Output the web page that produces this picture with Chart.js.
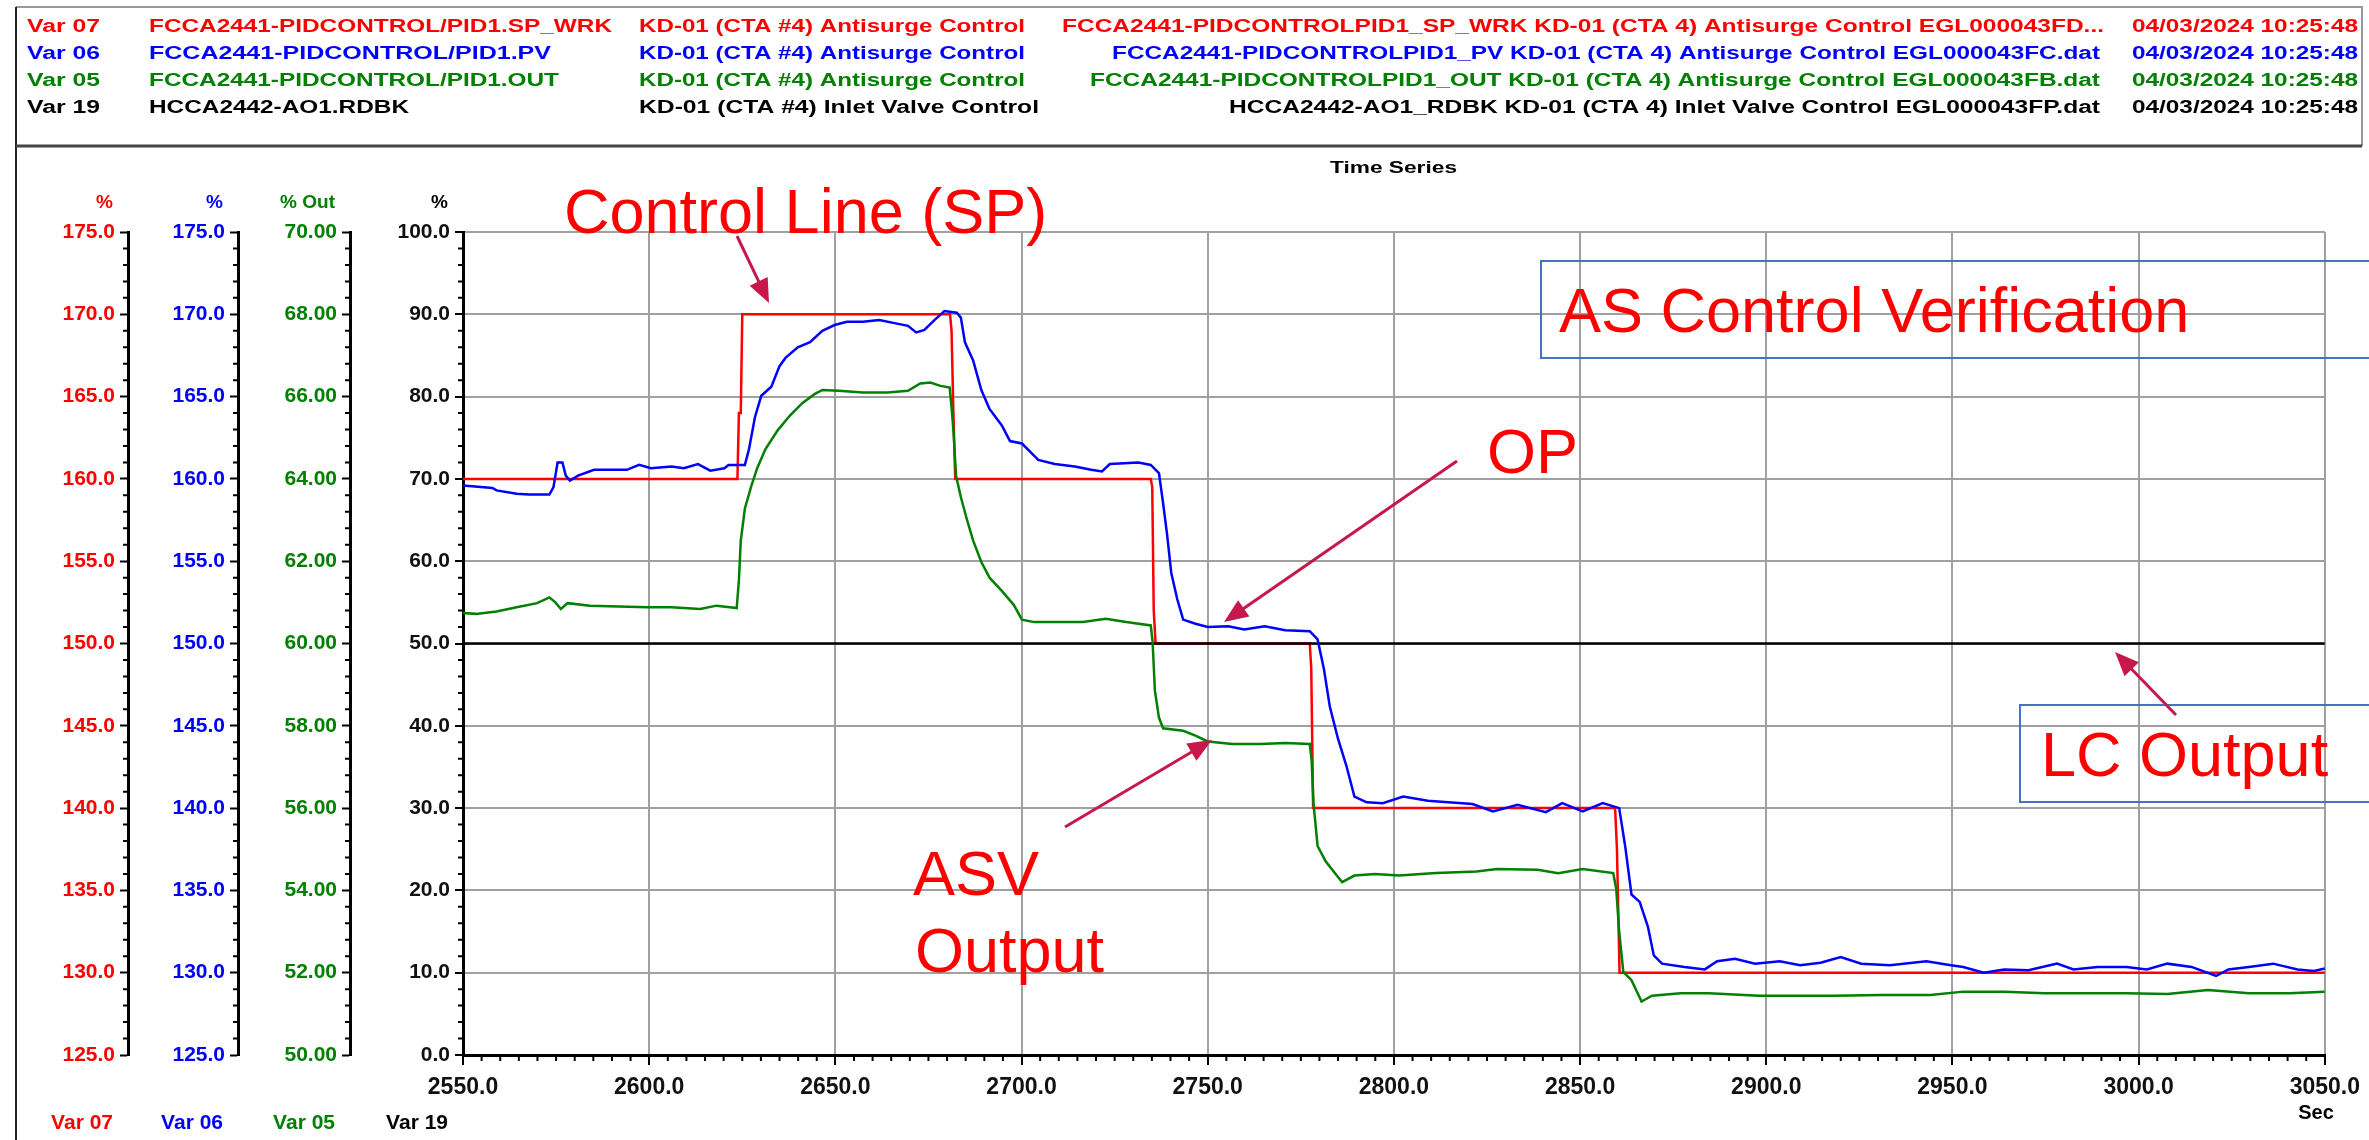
<!DOCTYPE html>
<html>
<head>
<meta charset="utf-8">
<title>KD-01 (CTA #4) Antisurge Control - Time Series</title>
<script src="https://cdn.jsdelivr.net/npm/chart.js@4.4.1/dist/chart.umd.min.js"></script>
<style>
  html, body { margin: 0; padding: 0; background: #fff; }
  canvas { display: block; }
</style>
</head>
<body>
<canvas id="trend" width="2369" height="1140"></canvas>
<script>
// ---- tick labels for every axis ----
let timeTicks = [2550, 2600, 2650, 2700, 2750, 2800, 2850, 2900, 2950, 3000, 3050];
let pctTicks  = [0, 10, 20, 30, 40, 50, 60, 70, 80, 90, 100];
let spTicks   = [125, 130, 135, 140, 145, 150, 155, 160, 165, 170, 175];
let pvTicks   = [125, 130, 135, 140, 145, 150, 155, 160, 165, 170, 175];
let outTicks  = [50, 52, 54, 56, 58, 60, 62, 64, 66, 68, 70];

// ---- Var 07  FCCA2441-PIDCONTROL/PID1.SP_WRK  (% , red axis) ----
let spTime  = [2550, 2623.7, 2624.1, 2624.6, 2625.0, 2680.8, 2681.2, 2681.7, 2682.2, 2734.7,
               2735.1, 2735.5, 2736.0, 2777.4, 2777.8, 2778.3, 2859.4, 2859.9, 2860.6, 3050];
let spValue = [160, 160, 164, 164, 170, 170, 169, 164, 160, 160,
               159.5, 152, 150, 150, 148.5, 140, 140, 137.5, 130, 130];

// ---- Var 06  FCCA2441-PIDCONTROL/PID1.PV  (% , blue axis) ----
let pvTime = [2550, 2552.4, 2557.9, 2559, 2564.4, 2567.7, 2573.2, 2574.3, 2575.4, 2576.7,
              2577.6, 2578.7, 2580.9, 2585.2, 2589.6, 2594, 2597.3, 2600.5, 2606, 2609.3,
              2613.1, 2616.4, 2620.2, 2621.3, 2625.7, 2626.8, 2628.4, 2630.1, 2632.8, 2635,
              2636.6, 2639.9, 2643.2, 2646.5, 2649.8, 2653.1, 2657.4, 2661.8, 2666.2, 2669.5,
              2671.7, 2673.9, 2676.6, 2679.3, 2682.6, 2683.7, 2684.8, 2687, 2689.2, 2691.4,
              2694.7, 2696.9, 2700.1, 2704.5, 2708.9, 2714.3, 2718.7, 2721.6, 2723.7, 2731.4,
              2734.7, 2736.9, 2738, 2739.1, 2740.2, 2741.8, 2743.4, 2746.7, 2750, 2755.5,
              2759.8, 2765.3, 2770.8, 2777.4, 2779.5, 2781.2, 2782.8, 2785, 2787.2, 2789.4,
              2792.7, 2797, 2802.5, 2809.1, 2814.6, 2821.1, 2826.6, 2833.2, 2840.8, 2845.2,
              2850.7, 2856.1, 2860.5, 2862.1, 2863.8, 2866, 2868.2, 2869.8, 2872, 2878,
              2883.5, 2886.8, 2891.6, 2897, 2903.6, 2909.1, 2914.6, 2920, 2925.5, 2933.2,
              2943, 2949.6, 2952.9, 2958.4, 2963.9, 2970.4, 2978.1, 2982.5, 2989, 2996.7,
              3002.2, 3007.7, 3014.2, 3020.8, 3024.1, 3029.6, 3036.1, 3042.7, 3047.1, 3050];
let pvValue = [159.6, 159.55, 159.45, 159.3, 159.1, 159.05, 159.05, 159.5, 161, 161,
               160.2, 159.9, 160.2, 160.55, 160.55, 160.55, 160.85, 160.65, 160.75, 160.65,
               160.9, 160.5, 160.65, 160.85, 160.85, 161.8, 163.75, 165.05, 165.6, 166.85,
               167.35, 168, 168.3, 169, 169.35, 169.55, 169.55, 169.65, 169.45, 169.3,
               168.9, 169.05, 169.65, 170.2, 170.1, 169.8, 168.3, 167.2, 165.4, 164.25,
               163.25, 162.3, 162.15, 161.15, 160.9, 160.75, 160.55, 160.45, 160.9, 161,
               160.85, 160.35, 158.55, 156.6, 154.3, 152.7, 151.45, 151.2, 151, 151.05,
               150.85, 151.05, 150.8, 150.75, 150.25, 148.45, 146.15, 144.2, 142.6, 140.7,
               140.35, 140.3, 140.7, 140.45, 140.35, 140.25, 139.8, 140.2, 139.75, 140.3,
               139.8, 140.3, 140, 137.7, 134.75, 134.3, 132.8, 131.05, 130.55, 130.35,
               130.2, 130.7, 130.85, 130.55, 130.7, 130.45, 130.6, 130.95, 130.55, 130.45,
               130.7, 130.45, 130.35, 130, 130.2, 130.15, 130.55, 130.2, 130.35, 130.35,
               130.2, 130.55, 130.35, 129.8, 130.2, 130.35, 130.55, 130.2, 130.1, 130.25];

// ---- Var 05  FCCA2441-PIDCONTROL/PID1.OUT  (% Out, green axis) ----
let outTime = [2550, 2553.5, 2559, 2564.4, 2569.9, 2573.2, 2574.8, 2576.3, 2578.1, 2584.1,
               2591.8, 2599.5, 2606, 2613.7, 2618.1, 2623.5, 2624.1, 2624.6, 2625.7, 2627.4,
               2629, 2631.2, 2634.5, 2637.8, 2641.1, 2644.4, 2646.5, 2650.9, 2657.4, 2664,
               2669.5, 2672.8, 2675.5, 2678.2, 2680.7, 2681.3, 2681.7, 2682.4, 2683.7, 2685.3,
               2687, 2689.2, 2691.4, 2694.7, 2697.9, 2700.1, 2703.4, 2710, 2716.5, 2722.6,
               2728.1, 2734.7, 2735.2, 2735.8, 2736.9, 2738, 2743.4, 2746.7, 2750, 2756.6,
               2764.2, 2770.8, 2777.4, 2777.9, 2778.4, 2779.5, 2781.7, 2786.1, 2789.4, 2794.9,
               2801.4, 2811.3, 2822.2, 2827.7, 2838.6, 2844.1, 2850.7, 2858.9, 2859.7, 2860.5,
               2861.6, 2863.8, 2866.5, 2869.3, 2877, 2884.6, 2898.1, 2917.9, 2931, 2944.1,
               2952.9, 2963.9, 2974.8, 2996.7, 3007.7, 3018.6, 3029.6, 3040.5, 3050];
let outValue = [60.74, 60.72, 60.78, 60.88, 60.98, 61.12, 61.0, 60.84, 60.98, 60.92,
                60.9, 60.88, 60.88, 60.84, 60.92, 60.86, 61.54, 62.5, 63.28, 63.82,
                64.26, 64.72, 65.18, 65.54, 65.84, 66.06, 66.16, 66.14, 66.1, 66.1,
                66.14, 66.32, 66.34, 66.26, 66.22, 65.64, 65.18, 64.08, 63.56, 63.02,
                62.5, 61.98, 61.6, 61.28, 60.94, 60.58, 60.52, 60.52, 60.52, 60.6,
                60.52, 60.44, 60.04, 58.86, 58.2, 57.94, 57.88, 57.76, 57.62, 57.56,
                57.56, 57.58, 57.56, 57.16, 56.12, 55.08, 54.7, 54.2, 54.36, 54.4,
                54.36, 54.42, 54.46, 54.52, 54.5, 54.42, 54.52, 54.42, 54.04, 53,
                52.02, 51.82, 51.3, 51.44, 51.5, 51.5, 51.44, 51.44, 51.46, 51.46,
                51.54, 51.54, 51.5, 51.5, 51.48, 51.58, 51.5, 51.5, 51.54];

// ---- Var 19  HCCA2442-AO1.RDBK  (% , main axis) ----
let rdbkTime  = [2550, 3050];
let rdbkValue = [50, 50];

let RED = '#ff0000', BLUE = '#0000ff', GREEN = '#008000', GRID = '#a0a0a0';
let ARROW = '#c8174b', BOXBLUE = '#4472c4';

Chart.defaults.font.family = '"Liberation Sans", Arial, Helvetica, sans-serif';

function pts(xs, ys) {
    return xs.map((x, i) => ({ x: x, y: ys[i] }));
}

function useTicks(list) {
    return s => { s.ticks = list.map(v => ({ value: v })); };
}

// one of the stacked value axes on the left
function leftAxis(list, color, digits, weight, width) {
    return {
        type: 'linear',
        position: 'left',
        weight: weight,
        min: list[0],
        max: list[list.length - 1],
        afterBuildTicks: useTicks(list),
        afterFit: s => { s.width = width; },
        grid: { drawOnChartArea: false, tickLength: 8, tickWidth: 2, tickColor: '#000' },
        border: { color: '#000', width: 3 },
        ticks: {
            color: color,
            padding: 5,
            font: { size: 21, weight: 'bold' },
            callback: v => Number(v).toFixed(digits)
        }
    };
}

// header table of the trend tool: [text, left, right]
let headerRows = [
    { y: 27, color: RED, cells: [
        ['Var 07', 27, 100],
        ['FCCA2441-PIDCONTROL/PID1.SP_WRK', 149, 612],
        ['KD-01 (CTA #4) Antisurge Control', 639, 1025],
        ['FCCA2441-PIDCONTROLPID1_SP_WRK KD-01 (CTA 4) Antisurge Control EGL000043FD...', 1062, 2104],
        ['04/03/2024 10:25:48', 2132, 2358]] },
    { y: 54, color: BLUE, cells: [
        ['Var 06', 27, 100],
        ['FCCA2441-PIDCONTROL/PID1.PV', 149, 551],
        ['KD-01 (CTA #4) Antisurge Control', 639, 1025],
        ['FCCA2441-PIDCONTROLPID1_PV KD-01 (CTA 4) Antisurge Control EGL000043FC.dat', 1112, 2100],
        ['04/03/2024 10:25:48', 2132, 2358]] },
    { y: 81, color: GREEN, cells: [
        ['Var 05', 27, 100],
        ['FCCA2441-PIDCONTROL/PID1.OUT', 149, 559],
        ['KD-01 (CTA #4) Antisurge Control', 639, 1025],
        ['FCCA2441-PIDCONTROLPID1_OUT KD-01 (CTA 4) Antisurge Control EGL000043FB.dat', 1090, 2100],
        ['04/03/2024 10:25:48', 2132, 2358]] },
    { y: 108, color: '#000', cells: [
        ['Var 19', 27, 100],
        ['HCCA2442-AO1.RDBK', 149, 409],
        ['KD-01 (CTA #4) Inlet Valve Control', 639, 1039],
        ['HCCA2442-AO1_RDBK KD-01 (CTA 4) Inlet Valve Control EGL000043FP.dat', 1229, 2100],
        ['04/03/2024 10:25:48', 2132, 2358]] }
];

// squeeze / stretch a string so it spans x1..x2
function fitText(c, str, x1, x2, y, color, font) {
    c.save();
    c.font = font;
    c.fillStyle = color;
    c.textBaseline = 'middle';
    c.textAlign = 'left';
    let w = c.measureText(str).width;
    c.translate(x1, y);
    c.scale((x2 - x1) / w, 1);
    c.fillText(str, 0, 0);
    c.restore();
}

function minorTicks(c, s, step, per) {
    let n = Math.round((s.max - s.min) / step);
    c.save();
    c.strokeStyle = '#000';
    c.lineWidth = 2;
    c.beginPath();
    for (let i = 0; i <= n; i++) {
        if (i % per === 0) continue;
        let p = s.getPixelForValue(s.min + i * step);
        if (s.isHorizontal()) {
            c.moveTo(p, s.top);
            c.lineTo(p, s.top + 6);
        } else {
            c.moveTo(s.right - 5, p);
            c.lineTo(s.right, p);
        }
    }
    c.stroke();
    c.restore();
}

function arrow(c, x1, y1, x2, y2) {
    let a = Math.atan2(y2 - y1, x2 - x1);
    let len = 24, half = 10;
    c.save();
    c.strokeStyle = ARROW;
    c.fillStyle = ARROW;
    c.lineWidth = 3;
    c.beginPath();
    c.moveTo(x1, y1);
    c.lineTo(x2 - Math.cos(a) * len * 0.7, y2 - Math.sin(a) * len * 0.7);
    c.stroke();
    c.translate(x2, y2);
    c.rotate(a);
    c.beginPath();
    c.moveTo(0, 0);
    c.lineTo(-len, -half);
    c.lineTo(-len, half);
    c.closePath();
    c.fill();
    c.restore();
}

let overlay = {
    id: 'overlay',
    beforeDraw(chart) {
        let c = chart.ctx;
        c.save();
        c.fillStyle = '#fff';
        c.fillRect(0, 0, chart.width, chart.height);
        c.restore();
    },
    afterDraw(chart) {
        let c = chart.ctx;
        let sc = chart.scales;

        minorTicks(c, sc.ySP, 1, 5);
        minorTicks(c, sc.yPV, 1, 5);
        minorTicks(c, sc.yOUT, 0.4, 5);
        minorTicks(c, sc.y, 2, 5);
        minorTicks(c, sc.x, 5, 10);

        // frame and header box
        c.save();
        c.strokeStyle = '#999';
        c.lineWidth = 2;
        c.beginPath();
        c.moveTo(16, 7); c.lineTo(2362, 7); c.lineTo(2362, 146);
        c.stroke();
        c.strokeStyle = '#222';
        c.beginPath();
        c.moveTo(16, 7); c.lineTo(16, 1140);
        c.stroke();
        c.strokeStyle = '#444';
        c.lineWidth = 3;
        c.beginPath();
        c.moveTo(16, 146); c.lineTo(2362, 146);
        c.stroke();
        c.restore();

        headerRows.forEach(r => {
            r.cells.forEach(cell => fitText(c, cell[0], cell[1], cell[2], r.y, r.color, 'bold 18px "Liberation Sans"'));
        });

        fitText(c, 'Time Series', 1330, 1457, 168, '#000', 'bold 17px "Liberation Sans"');

        // unit titles above and variable names under each axis
        let axes = [
            [sc.ySP, '%', 'Var 07', RED],
            [sc.yPV, '%', 'Var 06', BLUE],
            [sc.yOUT, '% Out', 'Var 05', GREEN],
            [sc.y, '%', 'Var 19', '#000']
        ];
        c.save();
        c.textAlign = 'right';
        c.textBaseline = 'middle';
        axes.forEach(a => {
            c.fillStyle = a[3];
            c.font = 'bold 19px "Liberation Sans"';
            c.fillText(a[1], a[0].right - 15, 203);
            c.font = 'bold 21px "Liberation Sans"';
            c.fillText(a[2], a[0].right - 15, 1123);
        });
        c.textAlign = 'center';
        c.fillStyle = '#000';
        c.font = 'bold 20px "Liberation Sans"';
        c.fillText('Sec', 2316, 1113);
        c.restore();

        // slide annotations drawn on top of the trend
        c.save();
        c.strokeStyle = BOXBLUE;
        c.lineWidth = 2;
        c.strokeRect(1541, 261, 900, 97);
        c.strokeRect(2020, 705, 500, 97);
        c.fillStyle = RED;
        c.font = '63px "Liberation Sans"';
        c.textAlign = 'left';
        c.textBaseline = 'alphabetic';
        c.fillText('Control Line (SP)', 564, 233);
        c.fillText('AS Control Verification', 1559, 332);
        c.fillText('OP', 1487, 473);
        c.fillText('ASV', 913, 895);
        c.fillText('Output', 915, 972);
        c.fillText('LC Output', 2041, 776);
        c.restore();

        arrow(c, 737, 236, 769, 303);
        arrow(c, 1457, 461, 1224, 622);
        arrow(c, 1065, 827, 1212, 740);
        arrow(c, 2176, 715, 2115, 652);
    }
};

let ctx = document.getElementById('trend').getContext('2d');

let chart = new Chart(ctx, {
    type: 'line',
    data: {
        datasets: [
            { label: 'Var 06', data: pts(pvTime, pvValue), yAxisID: 'yPV', borderColor: BLUE, borderWidth: 2.5, order: 1 },
            { label: 'Var 05', data: pts(outTime, outValue), yAxisID: 'yOUT', borderColor: GREEN, borderWidth: 2.5, order: 2 },
            { label: 'Var 19', data: pts(rdbkTime, rdbkValue), yAxisID: 'y', borderColor: '#000', borderWidth: 2.5, order: 3 },
            { label: 'Var 07', data: pts(spTime, spValue), yAxisID: 'ySP', borderColor: RED, borderWidth: 2.5, order: 4 }
        ]
    },
    options: {
        responsive: false,
        animation: false,
        devicePixelRatio: 1,
        events: [],
        layout: { padding: { left: 16, right: 43, top: 232, bottom: 35 } },
        elements: {
            point: { radius: 0 },
            line: { tension: 0, fill: false }
        },
        plugins: {
            legend: { display: false },
            tooltip: { enabled: false }
        },
        scales: {
            x: {
                type: 'linear',
                position: 'bottom',
                min: timeTicks[0],
                max: timeTicks[timeTicks.length - 1],
                afterBuildTicks: useTicks(timeTicks),
                afterFit: s => { s.height = 50; },
                grid: {
                    color: c => (c.tick && c.tick.value === timeTicks[0]) ? 'rgba(0,0,0,0)' : GRID,
                    lineWidth: 2, tickLength: 10, tickWidth: 2, tickColor: '#000'
                },
                border: { color: '#000', width: 3 },
                ticks: {
                    color: '#111', padding: 9, maxRotation: 0, autoSkip: false,
                    font: { size: 23, weight: 'bold' },
                    callback: v => Number(v).toFixed(1)
                }
            },
            ySP: leftAxis(spTicks, RED, 1, 3, 112),
            yPV: leftAxis(pvTicks, BLUE, 1, 2, 110),
            yOUT: leftAxis(outTicks, GREEN, 2, 1, 112),
            y: {
                type: 'linear',
                position: 'left',
                weight: 0,
                min: pctTicks[0],
                max: pctTicks[pctTicks.length - 1],
                afterBuildTicks: useTicks(pctTicks),
                afterFit: s => { s.width = 113; },
                grid: {
                    color: c => (c.tick && c.tick.value === pctTicks[0]) ? 'rgba(0,0,0,0)' : GRID,
                    lineWidth: 2, tickLength: 8, tickWidth: 2, tickColor: '#000'
                },
                border: { color: '#000', width: 3 },
                ticks: {
                    color: '#111', padding: 5,
                    font: { size: 21, weight: 'bold' },
                    callback: v => Number(v).toFixed(1)
                }
            }
        }
    },
    plugins: [overlay]
});
</script>
</body>
</html>
